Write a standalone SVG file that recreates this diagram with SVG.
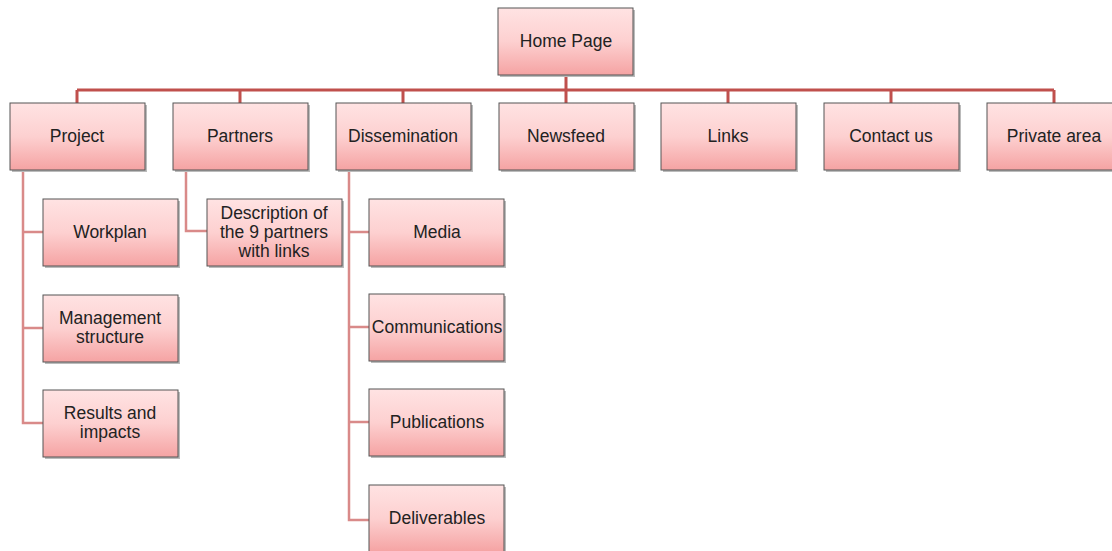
<svg xmlns="http://www.w3.org/2000/svg" width="1112" height="551" viewBox="0 0 1112 551">
<defs>
<linearGradient id="g" x1="0" y1="0" x2="0" y2="1">
<stop offset="0" stop-color="#ffe3e3"/>
<stop offset="0.5" stop-color="#fdd0d0"/>
<stop offset="1" stop-color="#f5a3a3"/>
</linearGradient>
</defs>
<style>
.box{fill:url(#g);stroke:#555;stroke-width:1}
.sh{fill:#bbb}
.t{font-family:"Liberation Sans",Arial,sans-serif;font-size:17.5px;fill:#222;text-anchor:middle}
.c{fill:none;stroke:#c0504d;stroke-width:3}
.c2{fill:none;stroke:#d98a89;stroke-width:2.5}
</style>
<g id="connectors">
<path class="c" d="M566 75V90M77 90H1054M77 90V103M240 90V103M403 90V103M566 90V103M728 90V103M891 90V103M1054 90V103"/>
<path class="c2" d="M23 170V423H43M23 232H43M23 328H43"/>
<path class="c2" d="M186 170V231H207"/>
<path class="c2" d="M349 170V520H369M349 232H369M349 327H369M349 422H369"/>
</g>
<g id="home"><rect class="sh" x="500" y="10" width="135" height="67"/><rect class="box" x="498" y="8" width="135" height="67"/><text class="t" x="566" y="47">Home Page</text></g>
<g id="project"><rect class="sh" x="12" y="105" width="135" height="67"/><rect class="box" x="10" y="103" width="135" height="67"/><text class="t" x="77" y="142">Project</text></g>
<g id="partners"><rect class="sh" x="175" y="105" width="135" height="67"/><rect class="box" x="173" y="103" width="135" height="67"/><text class="t" x="240" y="142">Partners</text></g>
<g id="dissemination"><rect class="sh" x="338" y="105" width="135" height="67"/><rect class="box" x="336" y="103" width="135" height="67"/><text class="t" x="403" y="142">Dissemination</text></g>
<g id="newsfeed"><rect class="sh" x="501" y="105" width="135" height="67"/><rect class="box" x="499" y="103" width="135" height="67"/><text class="t" x="566" y="142">Newsfeed</text></g>
<g id="links"><rect class="sh" x="663" y="105" width="135" height="67"/><rect class="box" x="661" y="103" width="135" height="67"/><text class="t" x="728" y="142">Links</text></g>
<g id="contact"><rect class="sh" x="826" y="105" width="135" height="67"/><rect class="box" x="824" y="103" width="135" height="67"/><text class="t" x="891" y="142">Contact us</text></g>
<g id="private"><rect class="sh" x="989" y="105" width="135" height="67"/><rect class="box" x="987" y="103" width="135" height="67"/><text class="t" x="1054" y="142">Private area</text></g>
<g id="workplan"><rect class="sh" x="45" y="201" width="135" height="67"/><rect class="box" x="43" y="199" width="135" height="67"/><text class="t" x="110" y="238">Workplan</text></g>
<g id="management"><rect class="sh" x="45" y="297" width="135" height="67"/><rect class="box" x="43" y="295" width="135" height="67"/><text class="t" x="110" y="324">Management</text><text class="t" x="110" y="343">structure</text></g>
<g id="results"><rect class="sh" x="45" y="392" width="135" height="67"/><rect class="box" x="43" y="390" width="135" height="67"/><text class="t" x="110" y="419">Results and</text><text class="t" x="110" y="438">impacts</text></g>
<g id="description"><rect class="sh" x="209" y="201" width="135" height="67"/><rect class="box" x="207" y="199" width="135" height="67"/><text class="t" x="274" y="219">Description of</text><text class="t" x="274" y="238">the 9 partners</text><text class="t" x="274" y="257">with links</text></g>
<g id="media"><rect class="sh" x="371" y="201" width="135" height="67"/><rect class="box" x="369" y="199" width="135" height="67"/><text class="t" x="437" y="238">Media</text></g>
<g id="communications"><rect class="sh" x="371" y="296" width="135" height="67"/><rect class="box" x="369" y="294" width="135" height="67"/><text class="t" x="437" y="333">Communications</text></g>
<g id="publications"><rect class="sh" x="371" y="391" width="135" height="67"/><rect class="box" x="369" y="389" width="135" height="67"/><text class="t" x="437" y="428">Publications</text></g>
<g id="deliverables"><rect class="sh" x="371" y="487" width="135" height="67"/><rect class="box" x="369" y="485" width="135" height="67"/><text class="t" x="437" y="524">Deliverables</text></g>
</svg>
